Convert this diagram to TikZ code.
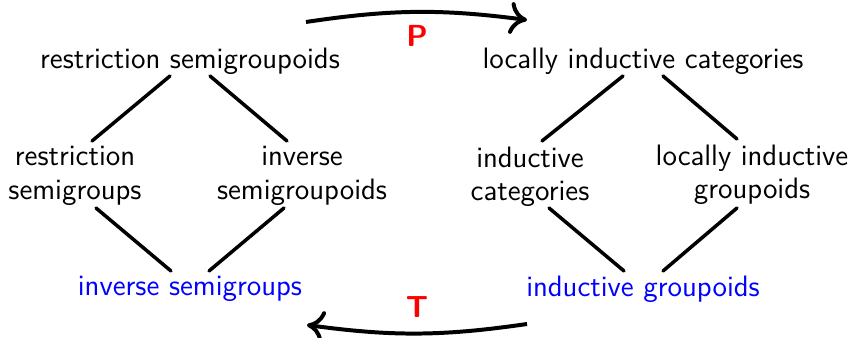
\documentclass[tikz,border=0pt]{standalone}
\usetikzlibrary{arrows.meta, positioning, calc}
\renewcommand{\familydefault}{\sfdefault}
\tikzset{
    catname/.style={align=center, font=\fontsize{12.6}{14.2}\selectfont\sffamily, inner sep=1pt},
    basecat/.style={catname, text=blue},
    funname/.style={font=\fontsize{13}{15}\selectfont\sffamily\bfseries, text=red},
    sublink/.style={line width=1.5pt, line cap=round},
    funarrow/.style={-{To[length=2.6mm, width=4.8mm]}, line width=1.7pt}
}
\begin{document}
\begin{tikzpicture}[x=0.015cm, y=0.015cm]
    \useasboundingbox (0,0) rectangle (853,338);

    % left diamond
    \node[catname] (rsg) at (190,277) {restriction semigroupoids};
    \node[catname] (rs) at (75,162) {restriction\\semigroups};
    \node[catname] (isgd) at (302,162) {inverse\\semigroupoids};
    \node[basecat] (isg) at (190,49) {inverse semigroups};

    % right diamond
    \node[catname] (lic) at (643,277) {locally inductive categories};
    \node[catname] (ic) at (530,161) {inductive\\categories};
    \node[catname] (lig) at (752,163) {locally inductive\\groupoids};
    \node[basecat] (ig) at (643,49) {inductive groupoids};

    \draw[sublink] ($(rsg.center)+(-20,-15)$) -- ($(rs.center)+(17,35)$);
    \draw[sublink] ($(rsg.center)+(20,-15)$) -- ($(isgd.center)+(-15,35)$);
    \draw[sublink] ($(rs.center)+(21,-32)$) -- ($(isg.center)+(-19,18)$);
    \draw[sublink] ($(isgd.center)+(-18,-32)$) -- ($(isg.center)+(19,18)$);

    \draw[sublink] ($(lic.center)+(-20,-15)$) -- ($(ic.center)+(12,36)$);
    \draw[sublink] ($(lic.center)+(20,-15)$) -- ($(lig.center)+(-15,36)$);
    \draw[sublink] ($(ic.center)+(19,-31)$) -- ($(ig.center)+(-19,18)$);
    \draw[sublink] ($(lig.center)+(-15,-33)$) -- ($(ig.center)+(20,18)$);

    % functors
    \coordinate (pstart) at (306,316);
    \coordinate (pend) at (527,318);
    \coordinate (tstart) at (527,14);
    \coordinate (tend) at (307,13);
    \draw[funarrow] (pstart) to[bend left=8] (pend);
    \draw[funarrow] (tstart) to[bend left=8] (tend);
    \node[funname] (P) at (417,302) {P};
    \node[funname] (T) at (417,31) {T};
\end{tikzpicture}
\end{document}
